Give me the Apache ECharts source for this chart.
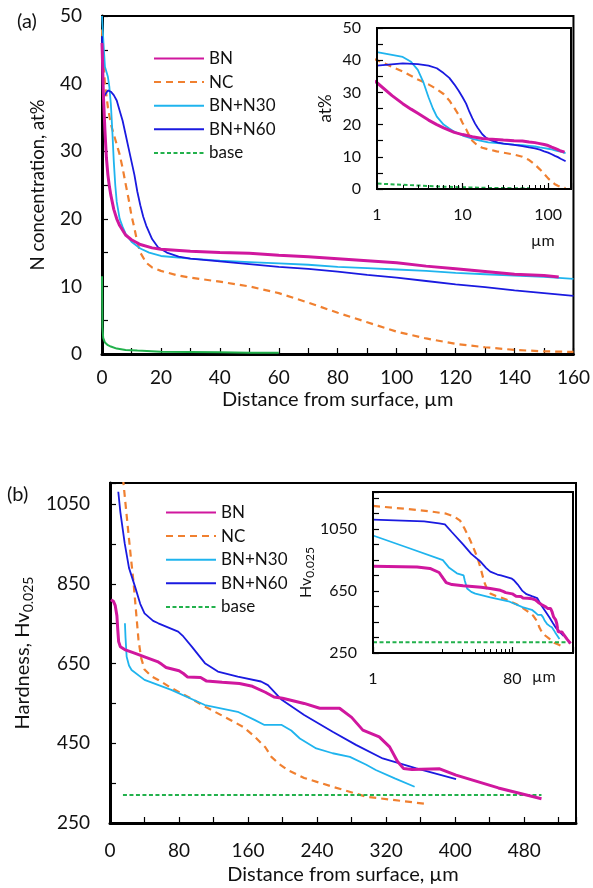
<!DOCTYPE html>
<html><head><meta charset="utf-8">
<script src="https://cdn.jsdelivr.net/npm/echarts/dist/echarts.min.js"></script>
<style>html,body{margin:0;padding:0;background:#fff}#c{width:593px;height:888px}</style>
</head><body><div id="c"></div>
<script>
// ---------- DATA: plot (a) N concentration (x: µm, y: at%) ----------
const names = ['BN', 'NC', 'BN+N30', 'BN+N60', 'base'];
const aBN = [[0,46],[0.5,38],[1,33],[1.5,29],[2,26.5],[2.5,24.8],[3,23.5],[4,21.4],[5,20],[6,19],[8,17.6],[10,16.9],[13,16.2],[17,15.7],[20,15.5],[30,15.2],[40,15.0],[50,14.9],[60,14.6],[70,14.4],[80,14.1],[90,13.8],[100,13.5],[110,13.0],[120,12.6],[130,12.2],[140,11.8],[150,11.6],[155,11.4]];
const aNC = [[0,48],[0.5,43],[1,40],[2,36.5],[3,34],[4,32.5],[5,31],[6,29.5],[7,27.5],[8,25.2],[9,23],[10,20.5],[11,18.6],[12,16.5],[13,15],[15,13.5],[17,12.8],[20,12.3],[25,11.7],[30,11.3],[40,10.7],[50,10],[60,9],[70,7.6],[80,6.1],[90,4.7],[100,3.3],[110,2.3],[120,1.5],[130,1.0],[140,0.6],[150,0.4],[160,0.3]];
const aN30 = [[0,50],[0.5,46],[1,42.5],[2,41],[2.5,39.5],[3,37],[3.5,33],[4,28.5],[4.5,25],[5,22.5],[6,20],[7,18.8],[8,17.8],[10,16.6],[13,15.6],[16,15],[20,14.5],[30,14.1],[40,13.8],[50,13.6],[60,13.4],[70,13.2],[80,12.9],[90,12.7],[100,12.5],[110,12.3],[120,12.0],[130,11.8],[140,11.6],[150,11.4],[160,11.1]];
const aN60 = [[0,47],[0.3,38],[1,38.3],[2,39],[3,38.8],[4,38.3],[5,37.5],[6,36],[7,34.5],[8,32.5],[9,30.5],[10,28.5],[11,26.5],[12,24],[13,22],[14,20.3],[15,19],[17,17],[19,15.8],[22,15],[26,14.4],[30,14.1],[40,13.7],[50,13.3],[60,12.9],[70,12.6],[80,12.2],[90,11.7],[100,11.3],[110,10.8],[120,10.3],[130,9.9],[140,9.4],[150,9.0],[160,8.6]];
const aBase = [[0,11.5],[0.15,4],[0.4,2.4],[1,1.7],[2,1.3],[3,1.1],[5,0.8],[8,0.6],[12,0.5],[20,0.35],[30,0.3],[40,0.25],[50,0.2],[60,0.2]];

// ---------- DATA: plot (b) Hardness (x: µm, y: HV0.025) ----------
const bBN = [[1,810],[4,806],[6,796],[8,770],[9,735],[10,705],[12,692],[17,685],[30,675],[40,667],[55,655],[60,648],[65,640],[80,632],[85,625],[90,616],[105,615],[112,606],[130,603],[150,600],[165,593],[180,578],[190,566],[200,563],[225,550],[243,538],[266,538],[280,515],[293,483],[312,466],[324,441],[333,405],[340,387],[350,384],[382,386],[401,370],[450,338],[500,311]];
const bNC = [[1,1200],[3,1180],[6,1165],[10,1150],[13,1130],[15.5,1105],[18,1050],[21,985],[24,920],[27,860],[30,785],[33,710],[36,665],[40,635],[48,618],[56,609],[70,590],[90,567],[110,542],[140,508],[155,490],[168,466],[180,440],[187,416],[196,398],[206,383],[225,363],[258,341],[297,316],[328,308],[366,298]];
const bN30 = [[17.3,751],[18,715],[19.3,667],[22,645],[25,634],[40,609],[71,584],[110,546],[148,529],[168,508],[179,496],[199,496],[210,482],[220,462],[239,437],[258,425],[278,416],[297,396],[308,383],[330,362],[353,341]];
const bN60 = [[9.6,1081],[12,1030],[17,952],[22,890],[29,843],[35,800],[40,776],[50,757],[56,751],[79,730],[85,718],[95,692],[110,651],[125,630],[148,617],[175,605],[183,596],[199,559],[225,521],[258,479],[285,446],[316,412],[355,387],[401,360]];
const bBase = [[15,320],[500,320]];
// inset (b) shows extra near-surface points not visible in the main plot
const biN30Head = [[1,1009],[3,930],[9,850],[11,800],[14,765]];
const biN60Head = [[1,1111],[5,1100],[8,1088]];
const biBaseHead = [[1,320]];

// tick labels
const aXLabels = [0,20,40,60,80,100,120,140,160];
const aYLabels = [0,10,20,30,40,50];
const aiXLabels = [1,10,100];
const aiYLabels = [0,10,20,30,40,50];
const bXLabels = [0,80,160,240,320,400,480];
const bYLabels = [250,450,650,850,1050];
const biXLabels = [1,80];
const biYLabels = [250,650,1050];

// ---------- STYLE ----------
const FONT = 'Lato';
const TXT = '#111';
const style = {
  'BN':     {color:'#D0179E', width:3,   type:'solid'},
  'NC':     {color:'#F08030', width:2.2, type:[7,5]},
  'BN+N30': {color:'#1FB4EE', width:1.8, type:'solid'},
  'BN+N60': {color:'#1A1AE0', width:1.8, type:'solid'},
  'base':   {color:'#22B14C', width:2,   type:[4,2.5]}
};
const pos = d => d.filter(p => p[0] > 0);
function ser(name, data, ax, over) {
  const s = Object.assign({}, style[name], over || {});
  const inset = (ax === 1 || ax === 3);
  return {
    name, type:'line', data, xAxisIndex:ax, yAxisIndex:ax,
    symbol:'none', smooth:false, clip:true, animation:false,
    lineStyle:{color:s.color, width:s.width, type:s.type},
    itemStyle:{color:s.color}, z: (inset ? 10 : 2) + (name==='BN' ? 1 : 0)
  };
}
const inList = arr => v => arr.indexOf(Math.round(v*1000)/1000) >= 0 ? String(Math.round(v)) : '';

function axisBase(o) {
  return {
    z: o.z || 0,
    axisLine:{show:true, onZero:false, lineStyle:{color:'#000', width:o.lw}},
    axisTick:{show:true, inside:true, length:6, lineStyle:{color:'#000', width:1.2}},
    splitLine:{show:false}
  };
}
function xAxisV(grid, min, max, interval, labels, o) {
  return Object.assign(axisBase(o), {
    type:'value', gridIndex:grid, min, max, interval,
    axisLabel:{color:TXT, fontFamily:FONT, fontSize:o.fs, margin:o.m, formatter:inList(labels)},
    name:o.name||'', nameLocation:'middle', nameGap:o.ng||30,
    nameTextStyle:{color:TXT, fontFamily:FONT, fontSize:o.nfs||20}
  });
}
function xAxisLog(grid, min, max, base, labels, o) {
  return Object.assign(axisBase(o), {
    type:'log', logBase:base, gridIndex:grid, min, max,
    minorTick:{show:true, splitNumber:o.msn, length:4, lineStyle:{color:'#000', width:1}},
    axisLabel:{color:TXT, fontFamily:FONT, fontSize:o.fs, margin:o.m, formatter:inList(labels)}
  });
}
function yAxisV(grid, min, max, interval, labels, o) {
  return Object.assign(axisBase(o), {
    type:'value', gridIndex:grid, min, max, interval,
    axisLabel:{color:TXT, fontFamily:FONT, fontSize:o.fs, margin:o.m, formatter:inList(labels)},
    name:o.name||'', nameLocation:'middle', nameGap:o.ng||30, nameRotate:90,
    nameTextStyle:Object.assign({color:TXT, fontFamily:FONT, fontSize:o.nfs||18}, o.nts||{})
  });
}

const legendData = names.map(n => n==='base' ? {name:n, lineStyle:{type:[4,2.5], width:2}} : {name:n});
const legendCommon = {
  orient:'vertical', itemWidth:50, itemHeight:14, itemGap:6.6, padding:0,
  itemStyle:{opacity:0},
  textStyle:{color:TXT, fontFamily:FONT, fontSize:17, lineHeight:17},
  data:legendData, selectedMode:false
};

const sub = {
  a:{fontFamily:FONT, fontSize:20, color:TXT, lineHeight:24},
  s:{fontFamily:FONT, fontSize:14, color:TXT, lineHeight:24, verticalAlign:'bottom'}
};
const subSmall = {
  a:{fontFamily:FONT, fontSize:16, color:TXT, lineHeight:20},
  s:{fontFamily:FONT, fontSize:12, color:TXT, lineHeight:20, verticalAlign:'bottom'}
};

const option = {
  backgroundColor:'#fff',
  animation:false,
  grid:[
    {left:102, top:16, width:473, height:338, show:true, borderColor:'#000', borderWidth:2, backgroundColor:'transparent'},
    {left:377, top:28, width:194, height:161, show:true, borderColor:'#000', borderWidth:2, backgroundColor:'#fff', z:5},
    {left:110, top:483, width:466, height:340, show:true, borderColor:'#000', borderWidth:2, backgroundColor:'transparent'},
    {left:373, top:492, width:200, height:161, show:true, borderColor:'#000', borderWidth:2, backgroundColor:'#fff', z:5}
  ],
  xAxis:[
    xAxisV(0, 0, 160, 10, aXLabels, {lw:3, fs:19, m:14, name:'Distance from surface, µm', ng:36}),
    xAxisLog(1, 1, 185, 10, aiXLabels, {lw:2, fs:16, m:18, z:12, msn:9}),
    xAxisV(2, 0, 540, 40, bXLabels, {lw:3, fs:19, m:18, name:'Distance from surface, µm', ng:42}),
    xAxisLog(3, 1, 540, 80, biXLabels, {lw:2, fs:16, m:18, z:12, msn:10})
  ],
  yAxis:[
    yAxisV(0, 0, 50, 5, aYLabels, {lw:3, fs:19, m:20, name:'N concentration, at%', ng:54, nfs:18.5}),
    yAxisV(1, 0, 50, 5, aiYLabels, {lw:2, fs:16, m:16, name:'at%', ng:43, nfs:17, z:12}),
    yAxisV(2, 250, 1103, 100, bYLabels, {lw:3, fs:19, m:20, name:'{a|Hardness, Hv}{s|0.025}', ng:64, nts:{rich:sub}}),
    yAxisV(3, 250, 1290, 100, biYLabels, {lw:2, fs:16, m:16, name:'{a|Hv}{s|0.025}', ng:56, nts:{rich:subSmall}, z:12})
  ],
  legend:[
    Object.assign({left:153, top:50}, legendCommon),
    Object.assign({left:165, top:504}, legendCommon)
  ],
  graphic:[
    {type:'text', left:17, top:12, style:{text:'(a)', fontFamily:FONT, fontSize:20, fill:TXT}},
    {type:'text', left:7, top:485, style:{text:'(b)', fontFamily:FONT, fontSize:20, fill:TXT}},
    {type:'text', left:531, top:233, style:{text:'µm', fontFamily:FONT, fontSize:16, fill:TXT}},
    {type:'text', left:532, top:669, style:{text:'µm', fontFamily:FONT, fontSize:16, fill:TXT}}
  ],
  series:[
    ser('BN', aBN, 0), ser('NC', aNC, 0), ser('BN+N30', aN30, 0), ser('BN+N60', aN60, 0),
    ser('base', aBase, 0, {type:'solid', width:2}),
    ser('BN', pos(aBN), 1), ser('NC', pos(aNC), 1), ser('BN+N30', pos(aN30), 1), ser('BN+N60', pos(aN60), 1), ser('base', pos(aBase), 1),
    ser('BN', bBN, 2), ser('NC', bNC, 2), ser('BN+N30', bN30, 2), ser('BN+N60', bN60, 2), ser('base', bBase, 2),
    ser('BN', bBN, 3), ser('NC', bNC, 3), ser('BN+N30', biN30Head.concat(bN30), 3), ser('BN+N60', biN60Head.concat(bN60), 3), ser('base', biBaseHead.concat(bBase), 3)
  ]
};
const chart = echarts.init(document.getElementById('c'), null, {renderer:'canvas'});
chart.setOption(option);
</script>
</body></html>
